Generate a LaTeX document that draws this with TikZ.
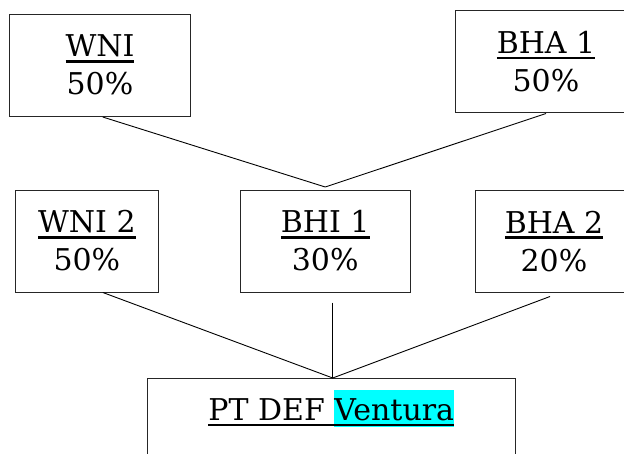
\documentclass[tikz,border=0pt]{standalone}
\usepackage{fontspec}
\setmainfont{DejaVu Serif}
\definecolor{hlcyan}{RGB}{0,255,255}
\newsavebox\ulbox
\newcommand\ulx[1]{\sbox\ulbox{#1}\usebox\ulbox\llap{\rule[-5.7pt]{\wd\ulbox}{2.4pt}}}
\newcommand\hlx[1]{{\setlength\fboxsep{0pt}\colorbox{hlcyan}{\rule[-6.7pt]{0pt}{37.7pt}#1}}}
\begin{document}
\begin{tikzpicture}[x=1pt,y=-1pt,
  box/.style={draw=black!85, line width=1pt, rectangle, align=center, inner sep=0pt,
    font=\fontsize{30}{38}\selectfont},
  link/.style={line width=0.9pt}]
\clip (0,0) rectangle (624,453);
\node[box, minimum width=181pt, minimum height=102.5pt] (WNI) at (100,65.25) {\ulx{WNI}\\50\%};
\node[box, minimum width=181pt, minimum height=102pt] (BHA1) at (546,61.5) {\ulx{BHA 1}\\50\%};
\node[box, minimum width=142.3pt, minimum height=102pt] (WNI2) at (86.85,241) {\ulx{WNI 2}\\50\%};
\node[box, minimum width=170.5pt, minimum height=102pt] (BHI1) at (325.25,241) {\ulx{BHI 1}\\30\%};
\node[box, minimum width=156.6pt, minimum height=102.5pt] (BHA2) at (554,241.25) {\ulx{BHA 2}\\20\%};
\node[box, anchor=north, minimum width=368.5pt, inner ysep=11pt, text height=31pt, text depth=80pt] (PT) at (331.25,378) {\ulx{PT DEF \hlx{Ventura}}};
\coordinate (j1) at ([yshift=2.5pt]BHI1.north);
\coordinate (j2) at ([xshift=1.5pt]PT.north);
\coordinate (b1) at ([yshift=-10pt]BHI1.south);
\draw[link] ([xshift=2.7pt]WNI.south) -- (j1);
\draw[link] ([yshift=-0.5pt]BHA1.south) -- (j1);
\draw[link] ([xshift=16pt]WNI2.south) -- (j2);
\draw[link] (b1 -| j2) -- (j2);
\draw[link] ([xshift=-4pt,yshift=-3.5pt]BHA2.south) -- (j2);
\end{tikzpicture}
\end{document}
